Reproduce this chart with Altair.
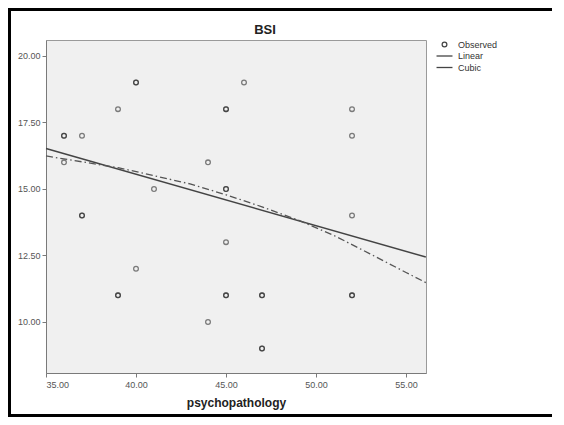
import altair as alt
import pandas as pd

# Observed points (duplicated pairs appear darker in the reference)
obs_x = [39, 37, 36, 44, 41, 46, 52, 52, 52, 45, 40, 44,
         40, 40, 45, 45, 36, 36, 45, 45, 37, 37, 39, 39, 45, 45, 47, 47, 52, 52, 47, 47]
obs_y = [18, 17, 16, 16, 15, 19, 18, 17, 14, 13, 12, 10,
         19, 19, 18, 18, 17, 17, 15, 15, 14, 14, 11, 11, 11, 11, 11, 11, 11, 11, 9, 9]

# Linear fit
lin_x = [35.0, 56.1]
lin_y = [16.52, 12.44]

# Cubic fit
cub_x = [35, 37, 39, 41, 43, 45, 47, 49, 51, 53, 55, 56.1]
cub_y = [16.24, 16.02, 15.8, 15.5, 15.19, 14.78, 14.33, 13.83, 13.25, 12.56, 11.86, 11.48]

series_names = ["Observed", "Linear", "Cubic"]
x_ticks = [35, 40, 45, 50, 55]
y_ticks = [10, 12.5, 15, 17.5, 20]
chart_title = "BSI"

obs = pd.DataFrame({"x": obs_x, "y": obs_y, "series": "Observed"})
lin = pd.DataFrame({"x": lin_x, "y": lin_y, "series": "Linear"})
cub = pd.DataFrame({"x": cub_x, "y": cub_y, "series": "Cubic"})
single = pd.DataFrame({"t": [chart_title]})

W, H = 380, 333
PAD_BOTTOM = 44
FONT = "Liberation Sans"

xs = alt.Scale(domain=[35, 56.11], nice=False, zero=False)
ys = alt.Scale(domain=[8.08, 20.6], nice=False, zero=False)

x_enc = alt.X("x:Q", scale=xs,
              axis=alt.Axis(values=x_ticks, format=".2f", title="psychopathology"))
y_enc = alt.Y("y:Q", scale=ys,
              axis=alt.Axis(values=y_ticks, format=".2f", title=None))

line_path = "M-3.4,0H3.4"

points = alt.Chart(obs).mark_point(
    filled=False, size=22, color="#1a1a1a", opacity=0.55, strokeWidth=1.3
).encode(
    x=x_enc, y=y_enc,
    shape=alt.Shape("series:N",
                    scale=alt.Scale(domain=series_names,
                                    range=["circle", line_path, line_path]),
                    legend=alt.Legend(title=None, orient="none", legendX=394, legendY=0,
                                      labelFont=FONT, labelFontSize=9, labelColor="#333",
                                      symbolSize=22, symbolStrokeWidth=1.3,
                                      symbolStrokeColor="#444", symbolOpacity=1,
                                      labelOffset=9, rowPadding=1.5, padding=0))
)

linear = alt.Chart(lin).mark_line(color="#444", strokeWidth=1.5).encode(
    x=x_enc, y=y_enc
)

cubic = alt.Chart(cub).mark_line(color="#555", strokeWidth=1.3,
                                 strokeDash=[7, 3, 1.5, 3]).encode(
    x=x_enc, y=y_enc
)

title_mark = alt.Chart(single).mark_text(
    font=FONT, fontSize=13, fontWeight="bold", color="#222",
    align="center", baseline="middle"
).encode(text="t:N", x=alt.value(219), y=alt.value(-10))

# picture frame: three filled bars (left, top, bottom)
def bar(x1, x2, y1, y2):
    return alt.Chart(single).mark_rect(color="black", strokeWidth=0).encode(
        x=alt.value(x1), x2=alt.value(x2), y=alt.value(y1), y2=alt.value(y2)
    )

FRAME_R = W + 126
frame_left = bar(-38, -35, -32, H + PAD_BOTTOM)
frame_top = bar(-38, FRAME_R, -32, -29)
frame_bottom = bar(-38, FRAME_R, H + PAD_BOTTOM - 3, H + PAD_BOTTOM)

chart = alt.layer(points, linear, cubic, title_mark,
                  frame_left, frame_top, frame_bottom).properties(
    width=W, height=H,
    padding={"left": 38, "top": 32, "right": 126, "bottom": PAD_BOTTOM},
    autosize=alt.AutoSizeParams(type="none"),
    background="white",
).configure_view(
    fill="#f0f0f0", stroke="#9a9a9a", strokeWidth=1
).configure_axis(
    grid=False, domainColor="#7a7a7a", tickColor="#7a7a7a", tickSize=4,
    labelFont=FONT, labelFontSize=9, labelColor="#555",
    titleFont=FONT, titleFontSize=12, titleFontWeight="bold", titleColor="#222"
).configure_axisX(
    labelPadding=3, titlePadding=8
).configure_axisY(
    labelPadding=2
)

chart.save("out.html", embed_options={"renderer": "svg", "actions": False})
